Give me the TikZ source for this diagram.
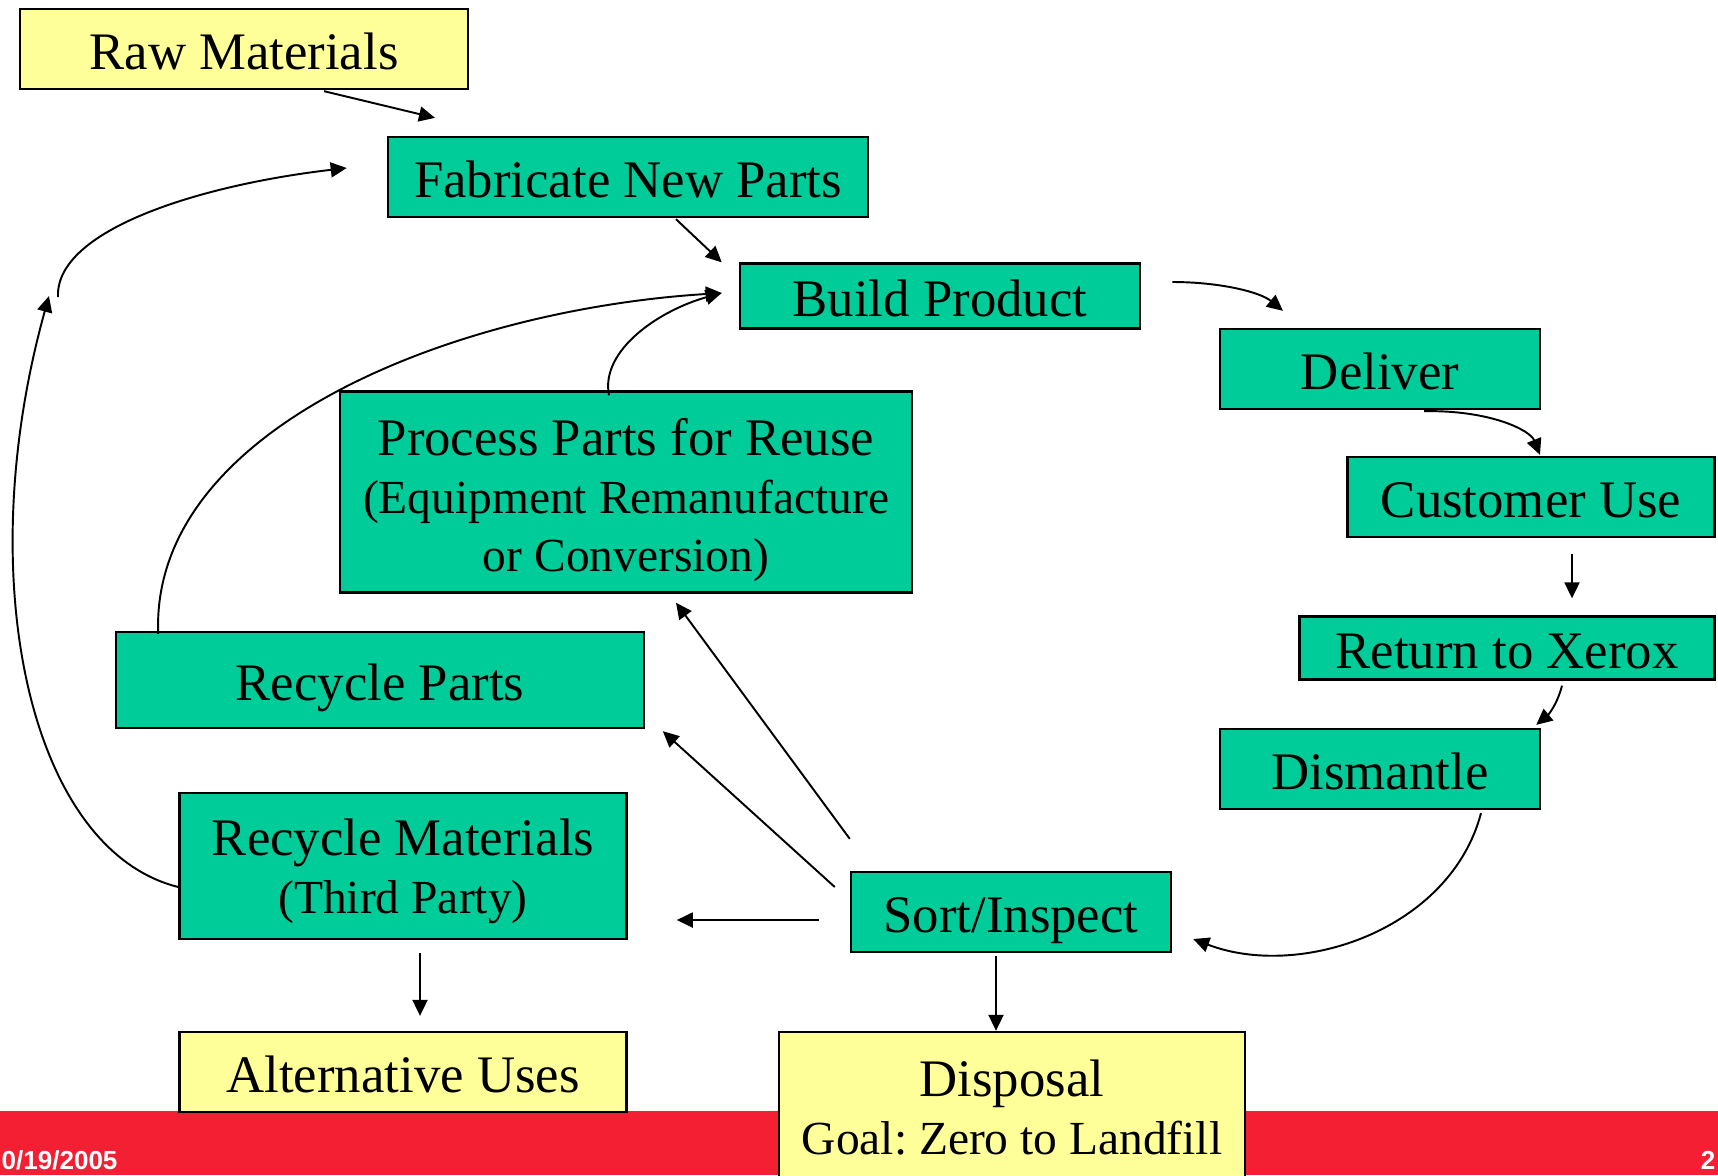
\documentclass[tikz,border=0pt]{standalone}
\usepackage{fontspec}
\usepackage{xcolor}
\usepackage{tikz}
\setmainfont{Liberation Serif}
\newfontfamily\footfont{Liberation Sans}
\usetikzlibrary{arrows.meta}
\definecolor{boxgreen}{RGB}{0,204,153}
\definecolor{boxyellow}{RGB}{255,255,153}
\definecolor{barred}{RGB}{244,31,51}
\newcommand{\minorline}{\fontsize{13.5}{16.5}\selectfont}
\frenchspacing

\begin{document}
\begin{tikzpicture}[x=0.01cm, y=-0.01cm,
		box/.style={draw, line width=0.65pt, inner sep=0pt, align=center, font=\fontsize{15}{16.5}\selectfont},
		oneline/.style={text height=11.4pt, text depth=0pt},
		greenbox/.style={box, fill=boxgreen},
		yellowbox/.style={box, fill=boxyellow},
		flow/.style={-{Triangle[length=0.16cm, width=0.15cm]}, line width=0.55pt},
		foot/.style={inner sep=0pt, text=white, font=\footfont\bfseries\fontsize{7.4}{8}\selectfont}]
			\useasboundingbox (0, 0) rectangle (1718, 1175);
			\fill[barred] (0, 1111) rectangle (1718, 1175);
			\node[foot, anchor=base west] at (1, 1169) (date) {0/19/2005};
			\node[foot, anchor=base east] at (1716, 1169) (page) {2};

			\node[yellowbox, oneline, minimum width=4.48cm, minimum height=0.80cm] at (244, 49) (raw) {Raw Materials};
			\node[greenbox, oneline, minimum width=4.80cm, minimum height=0.80cm] at (628, 177) (fab) {Fabricate New Parts};
			\node[greenbox, oneline, minimum width=4.00cm, minimum height=0.65cm] at (940, 296) (build) {Build Product};
			\node[greenbox, oneline, minimum width=3.20cm, minimum height=0.80cm] at (1380, 369) (deliver) {Deliver};
			\node[greenbox, oneline, minimum width=3.67cm, minimum height=0.80cm] at (1531, 497) (custuse) {Customer Use};
			\node[greenbox, oneline, minimum width=4.15cm, minimum height=0.63cm] at (1507, 648) (retx) {Return to Xerox};
			\node[greenbox, oneline, minimum width=3.20cm, minimum height=0.80cm] at (1380, 769) (dismantle) {Dismantle};
			\node[greenbox, minimum width=5.72cm, minimum height=2.01cm] at (626, 492) (process) {\rule{0pt}{15.3pt}Process Parts for Reuse\\\minorline (Equipment Remanufacture\\\minorline or Conversion)};
			\node[greenbox, oneline, minimum width=5.27cm, minimum height=0.96cm] at (380, 680) (recparts) {Recycle Parts};
			\node[greenbox, minimum width=4.47cm, minimum height=1.46cm] at (403, 866) (recmat) {\rule{0pt}{13.4pt}Recycle Materials\\\minorline (Third Party)};
			\node[greenbox, oneline, minimum width=3.20cm, minimum height=0.80cm] at (1011, 912) (sort) {Sort/Inspect};
			\node[yellowbox, oneline, minimum width=4.47cm, minimum height=0.80cm] at (403, 1072) (altuses) {Alternative Uses};
			\node[yellowbox, minimum width=4.66cm, minimum height=1.51cm] at (1012, 1107.5) (disposal) {Disposal\\\minorline Goal: Zero to Landfill};

			\coordinate (loopend) at (49, 296);
			\coordinate (loopstart) at (58, 297);

			\draw[flow] ([shift={(80, 1)}]raw.south) -- ([shift={(-193, -18)}]fab.north);
			\draw[flow] ([shift={(48, 1)}]fab.south) -- ([shift={(-17, 0)}]build.north west);
			\draw[flow] ([shift={(31, -14)}]build.east) .. controls (1220, 282) and (1260, 292) .. ([shift={(-97, -17)}]deliver.north);
			\draw[flow] ([shift={(44, 1)}]deliver.south) .. controls (1490, 410) and (1530, 430) .. ([shift={(9, -1)}]custuse.north);
			\draw[flow] ([shift={(41, 16)}]custuse.south) -- ([shift={(65, -17)}]retx.north);
			\draw[flow] ([shift={(55, 5)}]retx.south) .. controls (1557, 705) and (1548, 715) .. ([shift={(-5, -3)}]dismantle.north east);
			\draw[flow] ([shift={(101, 3)}]dismantle.south) .. controls (1450, 930) and (1300, 980) .. ([shift={(21, 27)}]sort.east);
			\draw[flow] ([shift={(-15, 3)}]sort.south) -- ([shift={(-16, 0)}]disposal.north);
			\draw[flow] ([shift={(-31, 8)}]sort.west) -- ([shift={(49, 54)}]recmat.east);
			\draw[flow] ([shift={(-15, -25)}]sort.west) -- ([shift={(18, 2)}]recparts.south east);
			\draw[flow] ([shift={(0, -32)}]sort.north west) -- ([shift={(50, 9)}]process.south);
			\draw[flow] ([shift={(17, 13)}]recmat.south) -- ([shift={(17, -15)}]altuses.north);
			\draw[flow] ([shift={(0, 21)}]recmat.west) .. controls (30, 850) and (-30, 580) .. (loopend);
			\draw[flow] (loopstart) .. controls (55, 230) and (200, 185) .. ([shift={(-40, -9)}]fab.west);
			\draw[flow] ([shift={(43, 3)}]recparts.north west) .. controls (150, 430) and (450, 310) .. ([shift={(-17, -3)}]build.west);
			\draw[flow] ([shift={(-17, 5)}]process.north) .. controls (600, 350) and (660, 310) .. ([shift={(-17, -3)}]build.west);
		\end{tikzpicture}
\end{document}
